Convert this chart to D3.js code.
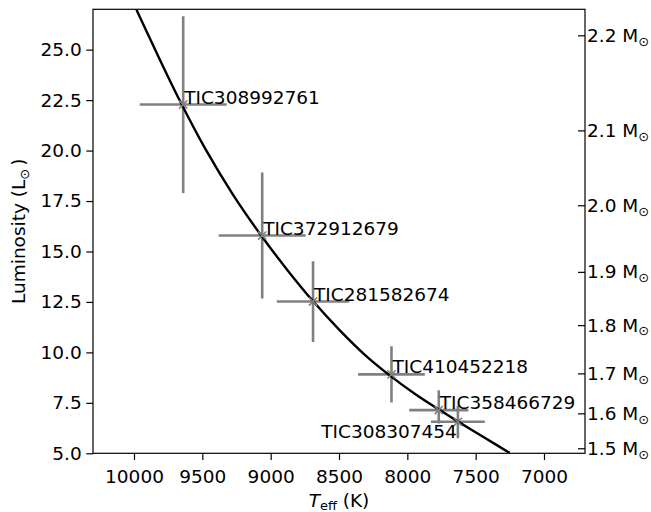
<!DOCTYPE html>
<html>
<head>
<meta charset="utf-8">
<script src="https://cdn.jsdelivr.net/npm/d3@7"></script>
<style>
  body { margin: 0; background: #fff; }
  svg { display: block; font-family: "DejaVu Sans", sans-serif; }
</style>
</head>
<body>
<svg id="chart"></svg>
<script>
// =============================================== DATA =======================================================
// stars (Teff in K, luminosity in Lsun)
const starNames   = ["TIC308992761", "TIC372912679", "TIC281582674", "TIC410452218", "TIC358466729", "TIC308307454"];
const starTeff    = [9640, 9062, 8690, 8116, 7770, 7630];
const starTeffErr = [318, 318, 265, 244, 216, 197];
const starLum     = [22.28, 15.79, 12.52, 8.91, 7.14, 6.56];
const starLumUp   = [4.38, 3.12, 2.0, 1.39, 0.99, 0.81];
const starLumDown = [4.38, 3.12, 2.0, 1.39, 0.66, 0.81];

// evolutionary track (black line)
const trackTeff = [9982, 9844, 9669, 9481, 9276, 9064, 8874, 8689, 8494, 8311, 8129, 7946, 7763, 7629, 7434, 7251];
const trackLum  = [26.98, 24.98, 22.53, 20.12, 17.82, 15.74, 14.05, 12.53, 11.09, 9.88, 8.86, 7.95, 7.14, 6.57, 5.77, 5.02];

// axis ticks
const teffTicks = [10000, 9500, 9000, 8500, 8000, 7500, 7000];
const lumTicks  = [5.0, 7.5, 10.0, 12.5, 15.0, 17.5, 20.0, 22.5, 25.0];
const massLabels = ["2.2", "2.1", "2.0", "1.9", "1.8", "1.7", "1.6", "1.5"];
const massLum    = [25.71, 21.0, 17.29, 13.99, 11.35, 8.96, 6.98, 5.25];
// ============================================================================================================

const width = 651, height = 512;
const margin = {top: 9.3, right: 66, bottom: 58.7, left: 93};
const fontSize = 18.5;
const grey = "#808080";

const svg = d3.select("#chart").attr("width", width).attr("height", height);

const xs = d3.scaleLinear().domain([10300, 6700]).range([margin.left, width - margin.right]);
const ys = d3.scaleLinear().domain([5, 27]).range([height - margin.bottom, margin.top]);

svg.append("clipPath").attr("id", "plotclip")
    .append("rect")
    .attr("x", margin.left).attr("y", margin.top)
    .attr("width", xs.range()[1] - margin.left)
    .attr("height", ys.range()[0] - margin.top);

const stars = starNames.map((n, i) => ({
    name: n, teff: starTeff[i], teffErr: starTeffErr[i],
    lum: starLum[i], up: starLumUp[i], down: starLumDown[i]
}));
const track = trackTeff.map((t, i) => ({teff: t, lum: trackLum[i]}));

const plot = svg.append("g").attr("clip-path", "url(#plotclip)");

// ======================== ERROR BARS ========================
plot.selectAll(".xerr").data(stars).enter().append("line")
    .attr("x1", d => xs(d.teff - d.teffErr)).attr("x2", d => xs(d.teff + d.teffErr))
    .attr("y1", d => ys(d.lum)).attr("y2", d => ys(d.lum))
    .attr("stroke", grey).attr("stroke-width", 2.6);

plot.selectAll(".yerr").data(stars).enter().append("line")
    .attr("x1", d => xs(d.teff)).attr("x2", d => xs(d.teff))
    .attr("y1", d => ys(d.lum + d.up)).attr("y2", d => ys(d.lum - d.down))
    .attr("stroke", grey).attr("stroke-width", 2.6);

// ======================== TRACK ========================
const line = d3.line()
    .x(d => xs(d.teff))
    .y(d => ys(d.lum))
    .curve(d3.curveCatmullRom);

plot.append("path")
    .datum(track)
    .attr("fill", "none")
    .attr("stroke", "black")
    .attr("stroke-width", 2.4)
    .attr("d", line);

// ======================== MARKERS ========================
const marker = d3.symbol().type(d3.symbolTimes || d3.symbolCross).size(45);
plot.selectAll(".mk").data(stars).enter().append("path")
    .attr("transform", d => "translate(" + xs(d.teff) + "," + ys(d.lum) + ")")
    .attr("d", marker)
    .attr("fill", "none")
    .attr("stroke", grey)
    .attr("stroke-width", 1.6);

// ======================== LABELS ========================
// last star is labelled below-left of its point
svg.selectAll(".lbl").data(stars).enter().append("text")
    .attr("x", d => xs(d.teff) + (d.name === "TIC308307454" ? -1 : 1))
    .attr("y", d => ys(d.lum) + (d.name === "TIC308307454" ? 16.5 : -1))
    .attr("text-anchor", d => d.name === "TIC308307454" ? "end" : "start")
    .attr("font-size", fontSize)
    .attr("fill", "black")
    .text(d => d.name);

// ========================================== AXES ======================================================
const xAxis = svg.append("g")
    .attr("transform", "translate(0," + ys.range()[0] + ")")
    .call(d3.axisBottom(xs).tickValues(teffTicks).tickSize(6.7).tickSizeOuter(0).tickPadding(9.5)
        .tickFormat(d3.format("d")));

const yAxis = svg.append("g")
    .attr("transform", "translate(" + margin.left + ",0)")
    .call(d3.axisLeft(ys).tickValues(lumTicks).tickSize(6.7).tickSizeOuter(0).tickPadding(4.6)
        .tickFormat(d3.format(".1f")));

const rAxis = svg.append("g")
    .attr("transform", "translate(" + xs.range()[1] + ",0)")
    .call(d3.axisRight(ys).tickValues(massLum).tickSize(-7).tickSizeOuter(0).tickPadding(2)
        .tickFormat((d, i) => massLabels[i]));

[xAxis, yAxis, rAxis].forEach(g => {
    g.attr("font-size", fontSize).attr("font-family", null);
    g.selectAll("line").attr("stroke", "black").attr("stroke-width", 1.2);
    g.select(".domain").remove();
    g.selectAll("text").attr("fill", "black");
});

// mass labels with subscript sun symbol
rAxis.selectAll("text").each(function(d, i) {
    const t = d3.select(this);
    t.text(null);
    t.append("tspan").text(massLabels[i] + " M");
    t.append("tspan").attr("font-size", fontSize * 0.7).attr("dy", "0.3em").text("\u2299");
});

// frame
svg.append("rect")
    .attr("x", margin.left).attr("y", margin.top)
    .attr("width", xs.range()[1] - margin.left)
    .attr("height", ys.range()[0] - margin.top)
    .attr("fill", "none").attr("stroke", "black").attr("stroke-width", 1.2);

// ========================================== AXES LABELING ======================================================
const xl = svg.append("text")
    .attr("x", (margin.left + xs.range()[1]) / 2)
    .attr("y", 506.5)
    .attr("text-anchor", "middle")
    .attr("font-size", fontSize);
xl.append("tspan").attr("font-style", "italic").text("T");
xl.append("tspan").attr("font-size", fontSize * 0.7).attr("dy", "0.25em").text("eff");
xl.append("tspan").attr("dy", "-0.175em").text(" (K)");

const yl = svg.append("text")
    .attr("transform", "translate(25," + ((margin.top + ys.range()[0]) / 2) + ")rotate(-90)")
    .attr("text-anchor", "middle")
    .attr("font-size", fontSize);
yl.append("tspan").text("Luminosity (L");
yl.append("tspan").attr("font-size", fontSize * 0.7).attr("dy", "0.3em").text("\u2299");
yl.append("tspan").attr("dy", "-0.21em").attr("dx", 3).text(")");
</script>
</body>
</html>
